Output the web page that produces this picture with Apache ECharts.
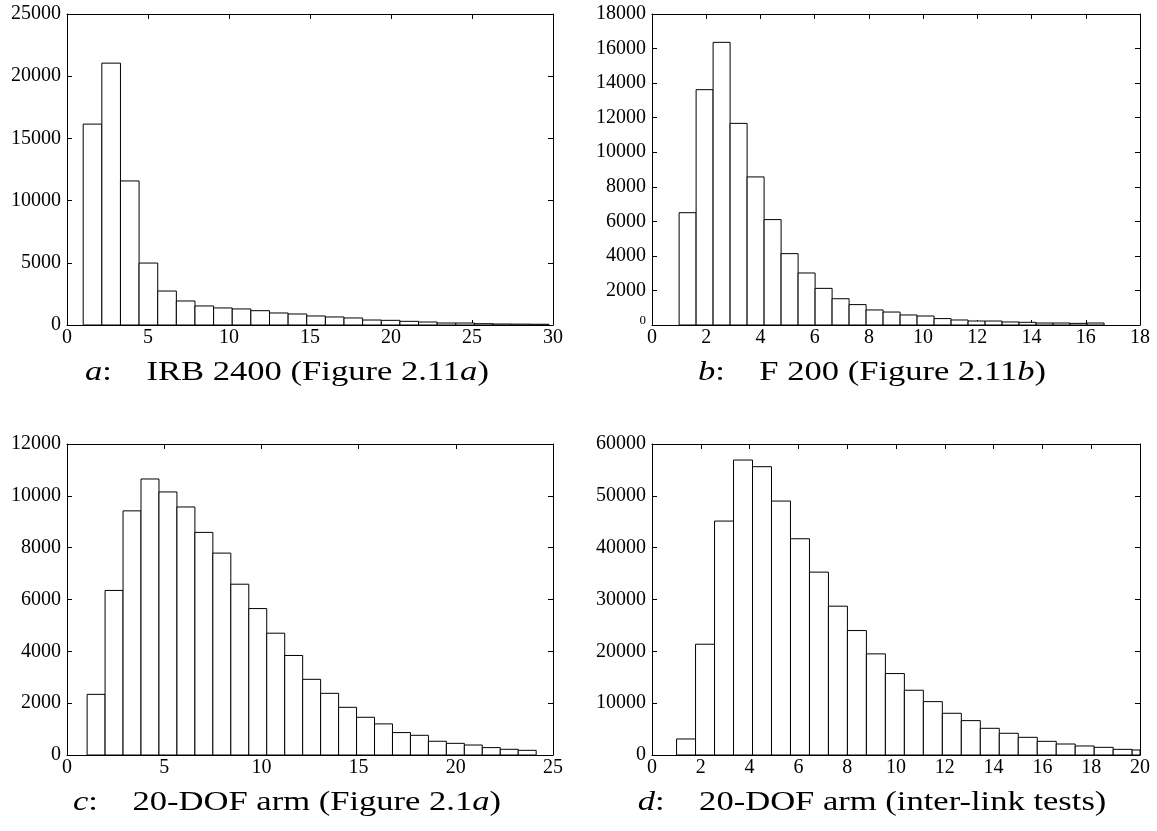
<!DOCTYPE html>
<html>
<head>
<meta charset="utf-8">
<script src="https://cdn.jsdelivr.net/npm/echarts@6/dist/echarts.min.js"></script>
<style>
html,body{margin:0;padding:0;background:#fff;}
#chart{width:1157px;height:831px;}
</style>
</head>
<body>
<div id="chart"></div>
<script>
// ---- data ----
const irbCounts = [16150, 21050, 11580, 4980, 2730, 1930, 1530, 1370, 1290, 1150, 965, 885, 725, 645, 565, 400, 375, 295, 240, 160, 160, 105, 80, 70, 60];
const irbBinStart = 1.0, irbBinWidth = 1.15;
const f200Counts = [6500, 13620, 16360, 11670, 8570, 6100, 4130, 3010, 2120, 1520, 1180, 870, 750, 580, 520, 370, 290, 230, 230, 175, 155, 115, 115, 95, 115];
const f200BinStart = 1.0, f200BinWidth = 0.627;
const dofCounts = [2340, 6350, 9420, 10650, 10150, 9570, 8590, 7790, 6590, 5650, 4700, 3840, 2920, 2380, 1840, 1455, 1200, 865, 760, 530, 450, 385, 285, 220, 180];
const dofBinStart = 1.035, dofBinWidth = 0.924;
const linkCounts = [3090, 21370, 45130, 56910, 55620, 48990, 41720, 35280, 28710, 24010, 19510, 15710, 12490, 10300, 8050, 6630, 5150, 4190, 3410, 2640, 2120, 1740, 1480, 1090, 970];
const linkBinStart = 1.007, linkBinWidth = 0.778;

const xAxisMax = [30, 18, 25, 20];
const xAxisStep = [5, 2, 5, 2];
const yAxisMax = [25000, 18000, 12000, 60000];
const yAxisStep = [5000, 2000, 2000, 10000];
const captions = [
  ['a', 'IRB 2400 (Figure 2.11', 'a', ')'],
  ['b', 'F 200 (Figure 2.11', 'b', ')'],
  ['c', '20-DOF arm (Figure 2.1', 'a', ')'],
  ['d', '20-DOF arm (inter-link tests)', '', '']
];

const panels = [
  {counts: irbCounts, start: irbBinStart, width: irbBinWidth},
  {counts: f200Counts, start: f200BinStart, width: f200BinWidth},
  {counts: dofCounts, start: dofBinStart, width: dofBinWidth},
  {counts: linkCounts, start: linkBinStart, width: linkBinWidth}
];

// ---- layout ----
const grids = [
  {left: 67, top: 14, width: 486, height: 311},
  {left: 652, top: 14, width: 488, height: 311},
  {left: 67, top: 444, width: 486, height: 311},
  {left: 652, top: 444, width: 488, height: 311}
];
const captionCenter = [287, 872, 287, 872];
const FONT = '"Liberation Serif", "Times New Roman", serif';
const LBL = 20;
const CAP = 27;

const xAxes = [], yAxes = [], series = [], graphics = [];
grids.forEach((g, i) => {
  const common = {gridIndex: i, type: 'value', min: 0, splitLine: {show: false},
    axisLine: {show: true, onZero: false, lineStyle: {color: '#000', width: 1}},
    axisTick: {show: true, inside: true, length: 5, lineStyle: {color: '#000'}}};
  xAxes.push(Object.assign({}, common, {position: 'bottom', max: xAxisMax[i], interval: xAxisStep[i],
    axisLabel: {show: true, color: '#000', fontFamily: FONT, fontSize: LBL, margin: 3, formatter: v => String(v)}}));
  xAxes.push(Object.assign({}, common, {position: 'top', max: xAxisMax[i], interval: xAxisStep[i],
    axisLabel: {show: false}}));
  const ylab = {show: true, color: '#000', fontFamily: FONT, fontSize: LBL, margin: 6, formatter: v => String(v)};
  if (i === 1) {
    ylab.formatter = v => v === 0 ? '{s|0}' : String(v);
    ylab.rich = {s: {fontSize: 13, fontFamily: FONT, color: '#000', padding: [0, 0, 8, 0]}};
  }
  yAxes.push(Object.assign({}, common, {position: 'left', max: yAxisMax[i], interval: yAxisStep[i], axisLabel: ylab}));
  yAxes.push(Object.assign({}, common, {position: 'right', max: yAxisMax[i], interval: yAxisStep[i], axisLabel: {show: false}}));

  const p = panels[i];
  series.push({
    type: 'custom',
    xAxisIndex: i * 2,
    yAxisIndex: i * 2,
    clip: true,
    data: p.counts.map((c, k) => [p.start + k * p.width, p.start + (k + 1) * p.width, c]),
    renderItem: function (params, api) {
      const a = api.coord([api.value(0), api.value(2)]);
      const b = api.coord([api.value(1), 0]);
      const rect = echarts.graphic.clipRectByRect({
        x: a[0], y: a[1], width: b[0] - a[0], height: b[1] - a[1]
      }, {x: params.coordSys.x, y: params.coordSys.y, width: params.coordSys.width, height: params.coordSys.height});
      if (!rect) return;
      return {type: 'rect', shape: rect, style: {fill: '#fff', stroke: '#000', lineWidth: 1}};
    },
    z: 1
  });

  const cap = captions[i];
  graphics.push({
    type: 'text',
    x: captionCenter[i],
    y: g.top + g.height + 34,
    scaleX: 1.28,
    style: {
      text: '{it|' + cap[0] + '}{n|:}{gap|}{n|' + cap[1] + '}' + (cap[2] ? '{it|' + cap[2] + '}' : '') + (cap[3] ? '{n|' + cap[3] + '}' : ''),
      x: 0, y: 0, align: 'center', verticalAlign: 'top',
      fontFamily: FONT, fontSize: CAP, fill: '#000',
      rich: {
        it: {fontStyle: 'italic', fontFamily: FONT, fontSize: CAP, color: '#000'},
        n: {fontFamily: FONT, fontSize: CAP, color: '#000'},
        gap: {width: CAP}
      }
    }
  });
});

const chart = echarts.init(document.getElementById('chart'), null, {renderer: 'canvas'});
chart.setOption({
  backgroundColor: '#fff',
  animation: false,
  grid: grids.map(g => Object.assign({containLabel: false}, g)),
  xAxis: xAxes,
  yAxis: yAxes,
  series: series,
  graphic: graphics
});
</script>
</body>
</html>
